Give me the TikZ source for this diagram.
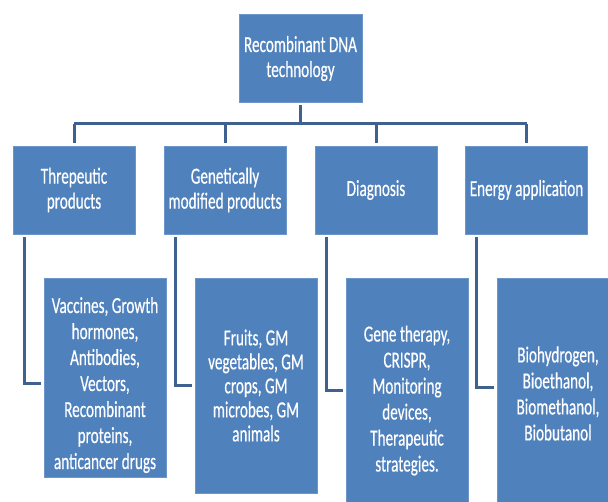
\documentclass[tikz,border=0pt]{standalone}
\usepackage{fontspec}
\setmainfont{Carlito}[FakeStretch=0.66, FakeBold=0.4]
\definecolor{boxblue}{HTML}{4F81BD}
\definecolor{boxedge}{HTML}{6C96C9}
\definecolor{linkblue}{HTML}{3F6190}
\newcommand\topgap[1]{\rule{0pt}{#1}}

\begin{document}
\begin{tikzpicture}[x=1pt, y=-1pt,
        box/.style={
            rectangle, fill=boxblue, draw=boxedge, line width=0.8pt,
            text=white, align=center, inner sep=1pt, outer sep=3pt,
            font=\fontsize{23}{25}\selectfont, minimum width=122pt,
          },
        head/.style={box, minimum height=88pt},
        leaf/.style={box, font=\fontsize{23}{26}\selectfont},
        link/.style={draw=linkblue, line width=3pt},
        ]
        \useasboundingbox (0,0) rectangle (608,502);
        \clip (0,0) rectangle (608,502);
        % top
        \node[head, minimum width=123pt] (root) at (300.5, 58.5) {Recombinant DNA\\technology};
        % first row
        \node[head] (thera) at (74, 190) {Threpeutic\\products};
        \node[head] (gmp) at (225, 190) {Genetically\\modified products};
        \node[head] (diag) at (376, 190) {Diagnosis};
        \node[head] (energy) at (526.5, 190) {Energy application};
        % second row
        \node[leaf, minimum height=199pt] (theraex) at (105, 377.5)
            {\topgap{31pt}Vaccines, Growth\\hormones,\\Antibodies,\\Vectors,\\Recombinant\\proteins,\\anticancer drugs};
        \node[leaf, minimum height=215pt, font=\fontsize{23}{24}\selectfont] (gmpex) at (256, 385.5)
            {Fruits, GM\\vegetables, GM\\crops, GM\\microbes, GM\\animals};
        \node[leaf, minimum height=226pt] (diagex) at (407, 391)
            {\topgap{35pt}Gene therapy,\\CRISPR,\\Monitoring\\devices,\\Therapeutic\\strategies.};
        \node[leaf, minimum height=226pt] (energyex) at (558, 391)
            {\topgap{21pt}Biohydrogen,\\Bioethanol,\\Biomethanol,\\Biobutanol};
        \coordinate (bar) at (300.5, 124);
        \draw[link] (root.south) -- (bar);
        \draw[link] (thera.north |- bar) -- (energy.north |- bar);
        \draw[link] (thera.north |- bar) -- (thera.north);
        \draw[link] (gmp.north |- bar) -- (gmp.north);
        \draw[link] (diag.north |- bar) -- (diag.north);
        \draw[link] (energy.north |- bar) -- (energy.north);
        \draw[link] ([xshift=-50pt]thera.south) |- ([yshift=-6pt]theraex.west);
        \draw[link] ([xshift=-50pt]gmp.south) |- (gmpex.west);
        \draw[link] ([xshift=-50pt]diag.south) |- (diagex.west);
        \draw[link] ([xshift=-50pt]energy.south) |- ([yshift=3pt]energyex.west);
\end{tikzpicture}
\end{document}
